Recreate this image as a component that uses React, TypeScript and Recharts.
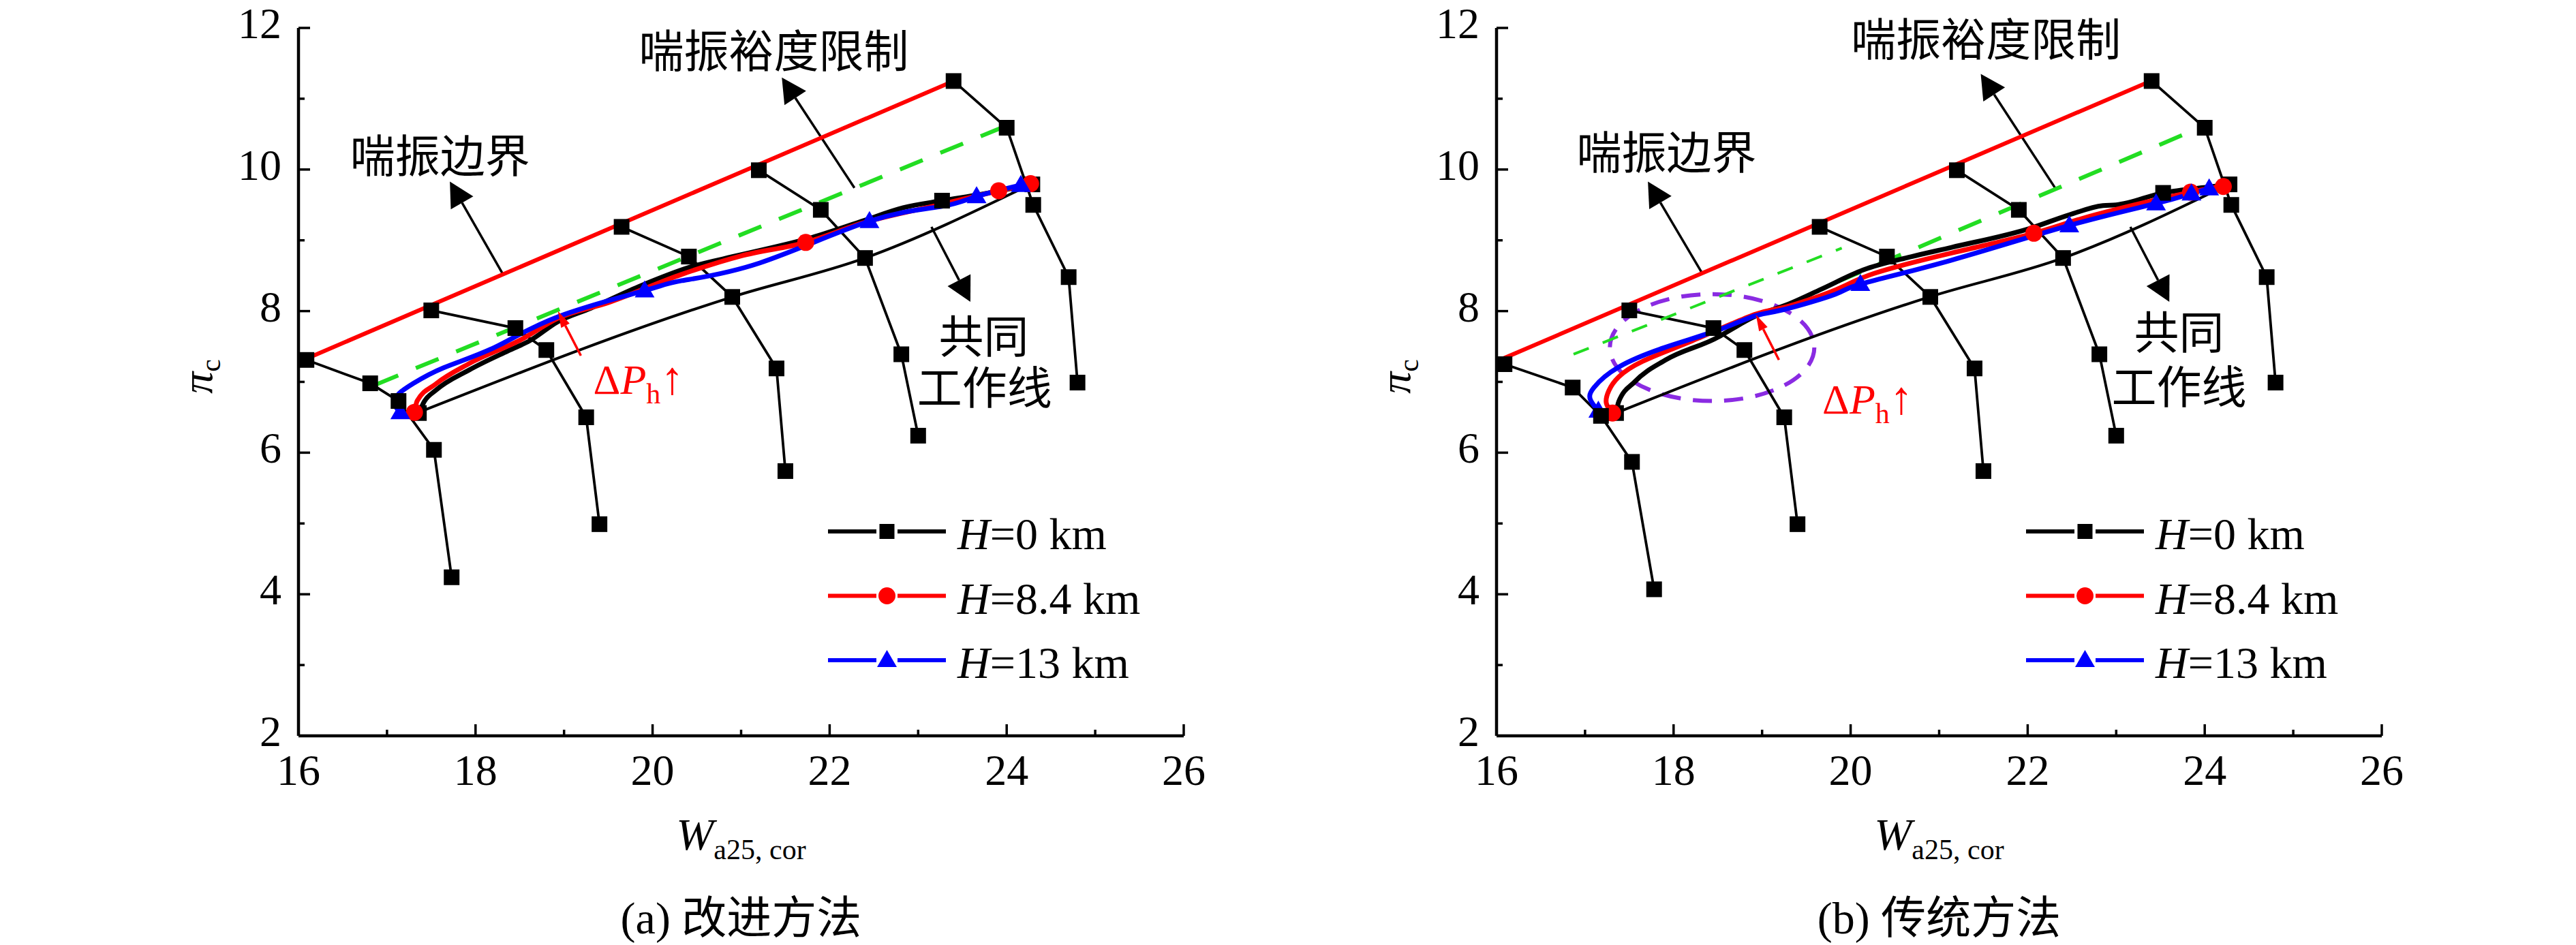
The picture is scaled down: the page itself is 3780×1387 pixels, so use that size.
import React from "react";
import {
  ComposedChart,
  Line,
  Scatter,
  XAxis,
  YAxis,
  ReferenceLine,
  ReferenceDot,
  ReferenceArea,
  Legend,
} from "recharts";

type XY = [number, number];
type Note = { text: string; x: number; y: number };

const xTicks = [16, 17, 18, 19, 20, 21, 22, 23, 24, 25, 26];
const yTicks = [2, 3, 4, 5, 6, 7, 8, 9, 10, 11, 12];

// speed lines (only the lowest one differs between the two panels)
const speed1A: XY[] = [[16.09, 7.31], [16.81, 6.98], [17.13, 6.73], [17.53, 6.04], [17.73, 4.24]];
const speed1B: XY[] = [[16.09, 7.25], [16.86, 6.92], [17.18, 6.52], [17.53, 5.87], [17.78, 4.07]];
const speed2: XY[] = [[17.5, 8.01], [18.45, 7.76], [18.8, 7.45], [19.25, 6.5], [19.4, 4.99]];
const speed3: XY[] = [[19.65, 9.19], [20.41, 8.77], [20.9, 8.2], [21.4, 7.19], [21.5, 5.74]];
const speed4: XY[] = [[21.2, 9.99], [21.9, 9.43], [22.4, 8.75], [22.81, 7.39], [23.0, 6.24]];
const speed5: XY[] = [[23.4, 11.25], [24.0, 10.59], [24.3, 9.5], [24.7, 8.48], [24.8, 6.99]];

// surge boundary, surge margin limit, common working line
const surgeA: XY[] = [[16.0, 7.28], [23.4, 11.25]];
const surgeB: XY[] = [[16.0, 7.29], [23.39, 11.25]];
const marginA: XY[] = [[16.87, 6.96], [24.0, 10.62]];
const marginB: XY[] = [[19.86, 8.42], [24.0, 10.62]];
const marginThinB: XY[] = [[16.87, 7.39], [19.9, 8.89]];
const workA: XY[] = [[17.34, 6.56], [20.9, 8.2], [22.4, 8.75], [24.22, 9.76]];
const workB: XY[] = [[17.35, 6.56], [20.89, 8.2], [22.4, 8.75], [24.22, 9.76]];

// (a) 改进方法
const h0A: XY[] = [
  [17.36, 6.56], [17.42, 6.72], [17.55, 6.88], [17.93, 7.17], [18.37, 7.44], [18.61, 7.58],
  [18.93, 7.85], [19.3, 8.04], [19.87, 8.36], [20.42, 8.62], [20.98, 8.79], [21.8, 9.04],
  [22.39, 9.28], [22.83, 9.46], [23.27, 9.56], [23.71, 9.65], [24.29, 9.79],
];
const h0MarkA: XY[] = [[17.36, 6.56], [23.27, 9.56], [24.29, 9.79]];
const h84A: XY[] = [
  [17.31, 6.57], [17.34, 6.73], [17.55, 6.97], [17.93, 7.26], [18.52, 7.6], [18.93, 7.9],
  [19.5, 8.12], [20.33, 8.52], [21.0, 8.78], [21.73, 8.97], [22.39, 9.25], [23.27, 9.51],
  [23.91, 9.7], [24.27, 9.8],
];
const h84MarkA: XY[] = [[17.31, 6.57], [21.73, 8.97], [23.91, 9.7], [24.27, 9.8]];
const h13A: XY[] = [
  [17.15, 6.57], [17.08, 6.7], [17.14, 6.84], [17.3, 6.98], [17.64, 7.2], [18.22, 7.49],
  [18.93, 7.92], [19.91, 8.29], [20.33, 8.43], [21.21, 8.68], [22.45, 9.27], [23.27, 9.48],
  [23.66, 9.62], [24.16, 9.78],
];
const h13MarkA: XY[] = [[17.15, 6.57], [19.91, 8.29], [22.45, 9.27], [23.66, 9.62], [24.16, 9.78]];

// (b) 传统方法
const h0B: XY[] = [
  [17.35, 6.56], [17.38, 6.72], [17.56, 7.0], [17.91, 7.31], [18.5, 7.63], [18.65, 7.74],
  [18.91, 7.92], [19.3, 8.1], [19.67, 8.31], [20.14, 8.58], [20.69, 8.77], [21.14, 8.9],
  [22.03, 9.17], [22.47, 9.36], [22.85, 9.49], [23.0, 9.5], [23.53, 9.67], [24.09, 9.76],
  [24.28, 9.79],
];
const h0MarkB: XY[] = [[17.35, 6.56], [23.53, 9.67], [24.28, 9.79]];
const h84B: XY[] = [
  [17.31, 6.56], [17.24, 6.7], [17.27, 6.88], [17.38, 7.07], [17.65, 7.29], [18.21, 7.58],
  [18.91, 7.95], [19.24, 8.05], [19.83, 8.3], [20.26, 8.53], [21.14, 8.82], [22.07, 9.1],
  [22.76, 9.36], [23.84, 9.68], [24.21, 9.76],
];
const h84MarkB: XY[] = [[17.31, 6.56], [22.07, 9.1], [23.84, 9.68], [24.21, 9.76]];
const h13B: XY[] = [
  [17.15, 6.59], [17.06, 6.75], [17.1, 6.92], [17.38, 7.21], [17.91, 7.49], [18.5, 7.73],
  [18.91, 7.93], [19.24, 8.02], [19.83, 8.24], [20.11, 8.38], [21.14, 8.72], [22.47, 9.21],
  [23.45, 9.52], [23.85, 9.66], [24.05, 9.73],
];
const h13MarkB: XY[] = [
  [17.15, 6.59], [20.11, 8.38], [22.47, 9.21], [23.45, 9.52], [23.85, 9.66], [24.05, 9.73],
];
const ellipseB: XY[] = [[17.28, 6.73], [19.59, 8.24]];

// annotations
const notesA: Note[] = [
  { text: "喘振边界", x: 17.6, y: 10.18 },
  { text: "喘振裕度限制", x: 21.37, y: 11.66 },
  { text: "共同", x: 23.74, y: 7.63 },
  { text: "工作线", x: 23.75, y: 6.9 },
];
const notesB: Note[] = [
  { text: "喘振边界", x: 17.92, y: 10.22 },
  { text: "喘振裕度限制", x: 21.53, y: 11.82 },
  { text: "共同", x: 23.71, y: 7.68 },
  { text: "工作线", x: 23.71, y: 6.91 },
];
const arrowsA: XY[][] = [
  [[18.31, 8.52], [17.71, 9.83]],
  [[22.28, 9.74], [21.46, 11.3]],
  [[23.15, 9.19], [23.59, 8.13]],
];
const arrowsB: XY[][] = [
  [[18.33, 8.52], [17.71, 9.83]],
  [[22.32, 9.72], [21.47, 11.35]],
  [[23.16, 9.19], [23.6, 8.13]],
];
const dpArrowA: XY[] = [[19.19, 7.37], [18.93, 8.0]];
const dpArrowB: XY[] = [[19.19, 7.31], [18.93, 7.95]];
const dpTextA: XY = [19.33, 6.83];
const dpTextB: XY = [19.68, 6.55];

const legendNames = ["=0 km", "=8.4 km", "=13 km"];
const legendColors = ["#000000", "#ff0000", "#0000ff"];

const SERIF = "'Liberation Serif', 'Times New Roman', serif";
const MIXED = "'Liberation Serif', 'Noto Sans CJK SC', serif";
const W = 1800;
const H = 1387;

const pts = (a: XY[]) => a.map(([x, y]) => ({ x, y }));
const monotoneX = (a: XY[]) => a.every((p, i) => i === 0 || p[0] >= a[i - 1][0]);

const square = (s: number) => (p: any) => (
  <rect key={`sq-${p.cx}-${p.cy}`} x={p.cx - s / 2} y={p.cy - s / 2} width={s} height={s} fill="#000" />
);
const circle = (p: any) => <circle key={`c-${p.cx}-${p.cy}`} cx={p.cx} cy={p.cy} r={12.5} fill="#ff0000" />;
const triangle = (p: any) => (
  <polygon
    key={`t-${p.cx}-${p.cy}`}
    points={`${p.cx},${p.cy - 15} ${p.cx - 14.5},${p.cy + 10} ${p.cx + 14.5},${p.cy + 10}`}
    fill="#0000ff"
  />
);

const arrowShape = (color: string, w: number, len: number, half: number) => (p: any) => {
  const { x1, y1, x2, y2 } = p;
  const L = Math.hypot(x2 - x1, y2 - y1) || 1;
  const ux = (x2 - x1) / L;
  const uy = (y2 - y1) / L;
  const bx = x2 - ux * len;
  const by = y2 - uy * len;
  return (
    <g>
      <line x1={x1} y1={y1} x2={bx} y2={by} stroke={color} strokeWidth={w} />
      <polygon
        points={`${x2},${y2} ${bx - uy * half},${by + ux * half} ${bx + uy * half},${by - ux * half}`}
        fill={color}
      />
    </g>
  );
};

const XTick = (p: any) => {
  const v = p.payload.value;
  const major = v % 2 === 0;
  return (
    <g>
      <line x1={p.x} x2={p.x} y1={p.y} y2={p.y - (major ? 17 : 9)} stroke="#000" strokeWidth={3.5} />
      {major && (
        <text x={p.x} y={p.y + 72} textAnchor="middle" fontSize={64} fontFamily={SERIF} fill="#000">
          {v}
        </text>
      )}
    </g>
  );
};

const YTick = (p: any) => {
  const v = p.payload.value;
  const major = v % 2 === 0;
  return (
    <g>
      <line x1={p.x} x2={p.x + (major ? 17 : 9)} y1={p.y} y2={p.y} stroke="#000" strokeWidth={3.5} />
      {major && (
        <text x={p.x - 25} y={p.y + 15} textAnchor="end" fontSize={64} fontFamily={SERIF} fill="#000">
          {v}
        </text>
      )}
    </g>
  );
};

const LegendBox = () => (
  <svg width={520} height={290}>
    {legendNames.map((name, i) => {
      const cy = 45 + i * 94.5;
      const c = legendColors[i];
      const mark = { cx: 101.5, cy };
      return (
        <g key={name}>
          <line x1={15} x2={188} y1={cy} y2={cy} stroke={c} strokeWidth={6} />
          <rect x={86} y={cy - 16} width={31} height={32} fill="#fff" />
          {i === 0 && square(22)(mark)}
          {i === 1 && circle(mark)}
          {i === 2 && triangle(mark)}
          <text x={205} y={cy + 26} fontSize={66} fontFamily={SERIF} fill="#000">
            <tspan fontStyle="italic">H</tspan>
            {name}
          </text>
        </g>
      );
    })}
  </svg>
);

interface PanelProps {
  left: number;
  caption: string;
  speed: XY[][];
  surge: XY[];
  margin: XY[];
  marginThin?: XY[];
  work: XY[];
  h0: XY[];
  h0Mark: XY[];
  h84: XY[];
  h84Mark: XY[];
  h13: XY[];
  h13Mark: XY[];
  notes: Note[];
  arrows: XY[][];
  dpArrow: XY[];
  dpText: XY;
  ellipse?: XY[];
}

function Panel(d: PanelProps) {
  const xLabel = (p: any) => {
    const vb = p.viewBox;
    const cx = vb.x + vb.width / 2;
    return (
      <g>
        <text x={cx} y={vb.y + 167} textAnchor="middle" fontFamily={SERIF} fontSize={66} fill="#000">
          <tspan fontStyle="italic">W</tspan>
          <tspan fontSize={42} dy={14}>a25, cor</tspan>
        </text>
        <text x={cx} y={vb.y + 290} textAnchor="middle" fontFamily={MIXED} fontSize={66} fill="#000">
          {d.caption}
        </text>
      </g>
    );
  };
  const yLabel = (p: any) => {
    const vb = p.viewBox;
    const cx = vb.x + 23;
    const cy = vb.y + vb.height / 2 - 8;
    return (
      <text
        transform={`translate(${cx},${cy}) rotate(-90)`}
        textAnchor="middle"
        fontFamily={SERIF}
        fontSize={64}
        fill="#000"
      >
        <tspan fontStyle="italic">π</tspan>
        <tspan fontSize={42} dy={12}>c</tspan>
      </text>
    );
  };
  const hLine = (data: XY[], color: string, key: string) => (
    <Line
      key={key}
      data={pts(data)}
      dataKey="y"
      type={monotoneX(data) ? "monotone" : "natural"}
      stroke={color}
      strokeWidth={7}
      dot={false}
      activeDot={false}
      isAnimationActive={false}
      legendType="none"
    />
  );

  return (
    <div style={{ position: "absolute", left: d.left, top: 0, width: W, height: H }}>
      <ComposedChart width={W} height={H} margin={{ top: 41, right: 63, left: 288, bottom: 207 }}>
        <XAxis
          type="number"
          dataKey="x"
          domain={[16, 26]}
          ticks={xTicks}
          interval={0}
          height={100}
          tickSize={0}
          tickMargin={0}
          tickLine={false}
          tick={XTick}
          axisLine={{ stroke: "#000", strokeWidth: 4.5 }}
          label={xLabel}
        />
        <YAxis
          type="number"
          dataKey="y"
          domain={[2, 12]}
          ticks={yTicks}
          interval={0}
          width={150}
          tickSize={0}
          tickMargin={0}
          tickLine={false}
          tick={YTick}
          axisLine={{ stroke: "#000", strokeWidth: 4.5 }}
          label={yLabel}
        />
        <Legend
          layout="vertical"
          align="center"
          verticalAlign="middle"
          content={LegendBox}
          wrapperStyle={{ left: 1200, top: 735, width: 520, height: 290 }}
        />
        {d.ellipse && (
          <ReferenceArea
            x1={d.ellipse[0][0]}
            x2={d.ellipse[1][0]}
            y1={d.ellipse[0][1]}
            y2={d.ellipse[1][1]}
            shape={(p: any) => (
              <ellipse
                cx={p.x + p.width / 2}
                cy={p.y + p.height / 2}
                rx={p.width / 2}
                ry={p.height / 2}
                fill="none"
                stroke="#8a2be2"
                strokeWidth={6}
                strokeDasharray="28 18"
              />
            )}
          />
        )}
        {d.arrows.map((a, i) => (
          <ReferenceLine
            key={`ar-${i}`}
            segment={[{ x: a[0][0], y: a[0][1] }, { x: a[1][0], y: a[1][1] }]}
            shape={arrowShape("#000", 3.5, 36, 19)}
          />
        ))}
        {d.speed.map((s, i) => (
          <Line
            key={`sp-${i}`}
            data={pts(s)}
            dataKey="y"
            type="linear"
            stroke="#000"
            strokeWidth={3.8}
            dot={square(23)}
            activeDot={false}
            isAnimationActive={false}
            legendType="none"
          />
        ))}
        <Line
          data={pts(d.work)}
          dataKey="y"
          type="monotone"
          stroke="#000"
          strokeWidth={4}
          dot={false}
          activeDot={false}
          isAnimationActive={false}
          legendType="none"
        />
        <Line
          data={pts(d.surge)}
          dataKey="y"
          type="linear"
          stroke="#ff0000"
          strokeWidth={6}
          dot={false}
          activeDot={false}
          isAnimationActive={false}
          legendType="none"
        />
        {d.marginThin && (
          <Line
            data={pts(d.marginThin)}
            dataKey="y"
            type="linear"
            stroke="#22dd22"
            strokeWidth={4}
            strokeDasharray="24 22"
            dot={false}
            activeDot={false}
            isAnimationActive={false}
            legendType="none"
          />
        )}
        <Line
          data={pts(d.margin)}
          dataKey="y"
          type="linear"
          stroke="#22dd22"
          strokeWidth={6}
          strokeDasharray="36 28"
          dot={false}
          activeDot={false}
          isAnimationActive={false}
          legendType="none"
        />
        {hLine(d.h0, "#000000", "h0")}
        {hLine(d.h84, "#ff0000", "h84")}
        {hLine(d.h13, "#0000ff", "h13")}
        <Scatter data={pts(d.h0Mark)} shape={square(23)} isAnimationActive={false} legendType="none" />
        <Scatter data={pts(d.h84Mark)} shape={circle} isAnimationActive={false} legendType="none" />
        <Scatter data={pts(d.h13Mark)} shape={triangle} isAnimationActive={false} legendType="none" />
        <ReferenceLine
          segment={[{ x: d.dpArrow[0][0], y: d.dpArrow[0][1] }, { x: d.dpArrow[1][0], y: d.dpArrow[1][1] }]}
          shape={arrowShape("#ff0000", 3.5, 24, 7)}
        />
        {d.notes.map((n) => (
          <ReferenceDot
            key={n.text}
            x={n.x}
            y={n.y}
            r={1}
            shape={(p: any) => (
              <text
                x={p.cx}
                y={p.cy}
                textAnchor="middle"
                dominantBaseline="central"
                fontFamily={MIXED}
                fontSize={66}
                fill="#000"
              >
                {n.text}
              </text>
            )}
          />
        ))}
        <ReferenceDot
          x={d.dpText[0]}
          y={d.dpText[1]}
          r={1}
          shape={(p: any) => (
            <text x={p.cx} y={p.cy} fontFamily={SERIF} fontSize={62} fill="#ff0000">
              <tspan>Δ</tspan>
              <tspan fontStyle="italic">P</tspan>
              <tspan fontSize={42} dy={14}>h</tspan>
              <tspan dy={-14} fontSize={68}>↑</tspan>
            </text>
          )}
        />
      </ComposedChart>
    </div>
  );
}

export default function App() {
  return (
    <div style={{ position: "absolute", left: 0, top: 0, width: 3780, height: H, background: "#fff" }}>
      <Panel
        left={0}
        caption="(a) 改进方法"
        speed={[speed1A, speed2, speed3, speed4, speed5]}
        surge={surgeA}
        margin={marginA}
        work={workA}
        h0={h0A}
        h0Mark={h0MarkA}
        h84={h84A}
        h84Mark={h84MarkA}
        h13={h13A}
        h13Mark={h13MarkA}
        notes={notesA}
        arrows={arrowsA}
        dpArrow={dpArrowA}
        dpText={dpTextA}
      />
      <Panel
        left={1758}
        caption="(b) 传统方法"
        speed={[speed1B, speed2, speed3, speed4, speed5]}
        surge={surgeB}
        margin={marginB}
        marginThin={marginThinB}
        work={workB}
        h0={h0B}
        h0Mark={h0MarkB}
        h84={h84B}
        h84Mark={h84MarkB}
        h13={h13B}
        h13Mark={h13MarkB}
        notes={notesB}
        arrows={arrowsB}
        dpArrow={dpArrowB}
        dpText={dpTextB}
        ellipse={ellipseB}
      />
    </div>
  );
}
